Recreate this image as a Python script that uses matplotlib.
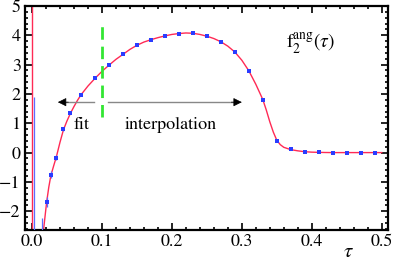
import numpy as np
import matplotlib
matplotlib.use("Agg")
import matplotlib.pyplot as plt

plt.rcParams['font.family'] = ['STIXGeneral', 'Liberation Serif', 'DejaVu Serif']
plt.rcParams['mathtext.fontset'] = 'stix'

# data points with error bars
tau_pts = [0.0025, 0.015, 0.021, 0.027, 0.035, 0.045, 0.055, 0.07, 0.09, 0.11,
           0.13, 0.15, 0.17, 0.19, 0.21, 0.23, 0.25, 0.27, 0.29, 0.31,
           0.33, 0.35, 0.37, 0.39, 0.41, 0.43, 0.45, 0.47, 0.49]
f_pts = [-5.0, -3.0, -1.68, -0.75, -0.17, 0.80, 1.34, 1.98, 2.53, 2.98,
         3.35, 3.67, 3.84, 3.96, 4.06, 4.07, 3.97, 3.78, 3.42, 2.79,
         1.81, 0.41, 0.11, 0.03, 0.01, 0.0, 0.0, 0.0, 0.0]
f_err = [6.88, 0.78, 0.18, 0.12, 0.08, 0.05, 0.0, 0.0, 0.0, 0.0,
         0.0, 0.0, 0.0, 0.0, 0.0, 0.0, 0.0, 0.0, 0.0, 0.0,
         0.0, 0.0, 0.0, 0.0, 0.0, 0.0, 0.0, 0.0, 0.0]

# fitted / interpolated curve
tau_curve = [0.0165, 0.019, 0.021, 0.024, 0.027, 0.031, 0.035, 0.040, 0.045, 0.050,
             0.055, 0.060, 0.065, 0.070, 0.080, 0.090, 0.100, 0.110, 0.120, 0.130,
             0.140, 0.150, 0.160, 0.170, 0.180, 0.190, 0.200, 0.210, 0.220, 0.230,
             0.240, 0.250, 0.260, 0.270, 0.280, 0.290, 0.300, 0.310, 0.320, 0.330,
             0.335, 0.340, 0.345, 0.350, 0.355, 0.360, 0.370, 0.380, 0.390, 0.400,
             0.410, 0.420, 0.430, 0.450, 0.470, 0.490, 0.500]
f_curve = [-2.64, -2.10, -1.68, -1.18, -0.78, -0.45, -0.13, 0.35, 0.78, 1.08,
           1.34, 1.57, 1.78, 1.97, 2.27, 2.53, 2.77, 2.98, 3.18, 3.35,
           3.52, 3.66, 3.77, 3.85, 3.92, 3.98, 4.03, 4.06, 4.08, 4.07,
           4.03, 3.97, 3.89, 3.78, 3.63, 3.43, 3.15, 2.79, 2.33, 1.81,
           1.45, 1.05, 0.70, 0.42, 0.27, 0.18, 0.10, 0.06, 0.03, 0.015,
           0.008, 0.003, 0.0, 0.0, 0.0, 0.0, 0.0]
# divergence of the fit at tau = 0
tau_div = [0.0, 0.0]
f_div = [5.2, -2.8]

# boundary between fit and interpolation
tau_split = 0.1
split_range = [1.22, 4.44]

fig = plt.figure(figsize=(3.95, 2.63), dpi=100)
ax = fig.add_axes([0.0633, 0.1255, 0.919, 0.8517])

red = '#ff2a55'
blue = '#2a3cff'
ax.plot(tau_div, f_div, color=red, lw=1.0)
ax.plot(tau_curve, f_curve, color=red, lw=1.0)
ax.errorbar(tau_pts, f_pts, yerr=f_err, fmt='s', ms=2.8, color=blue, mew=0,
            ecolor='#5c6cff', elinewidth=0.9, capsize=2, capthick=0.9, zorder=3)

ax.plot([tau_split, tau_split], split_range, color='#33e633', lw=2, dashes=(4.5, 2.5))

# arrows
arr_y = 1.72
ax.plot([0.045, 0.089], [arr_y, arr_y], color='#888888', lw=1)
ax.plot([0.109, 0.29], [arr_y, arr_y], color='#888888', lw=1)
ax.annotate('', xy=(0.037, arr_y), xytext=(0.052, arr_y),
            arrowprops=dict(arrowstyle='-|>', color='black', lw=0.5,
                            mutation_scale=13, shrinkA=0, shrinkB=0))
ax.annotate('', xy=(0.30, arr_y), xytext=(0.285, arr_y),
            arrowprops=dict(arrowstyle='-|>', color='black', lw=0.5,
                            mutation_scale=13, shrinkA=0, shrinkB=0))

ax.text(0.071, 0.93, 'fit', fontsize=13, ha='center', va='center')
ax.text(0.199, 0.93, 'interpolation', fontsize=13, ha='center', va='center')
ax.text(0.363, 3.72, r'$\mathrm{f}_2^{\mathrm{ang}}(\tau)$', fontsize=14,
        ha='left', va='center')
fig.text(0.881, 0.04, r'$\tau$', fontsize=15, ha='center', va='center')

ax.set_xlim(-0.01, 0.509)
ax.set_ylim(-2.64, 5.0)
ax.set_xticks(np.arange(0, 0.51, 0.1))
ax.set_xticklabels(['0.0', '0.1', '0.2', '0.3', '0.4', '0.5'])
ax.set_xticks(np.arange(0, 0.51, 0.02), minor=True)
ax.set_yticks(range(-2, 6))
ax.set_yticks(np.arange(-2.6, 5.01, 0.2), minor=True)
ax.tick_params(which='both', direction='in', top=True, right=True,
               labelsize=13, width=1.2, pad=3)
ax.tick_params(which='major', length=5)
ax.tick_params(which='minor', length=2.5)
for s in ax.spines.values():
    s.set_linewidth(1.6)

fig.savefig('out.png', dpi=100)
